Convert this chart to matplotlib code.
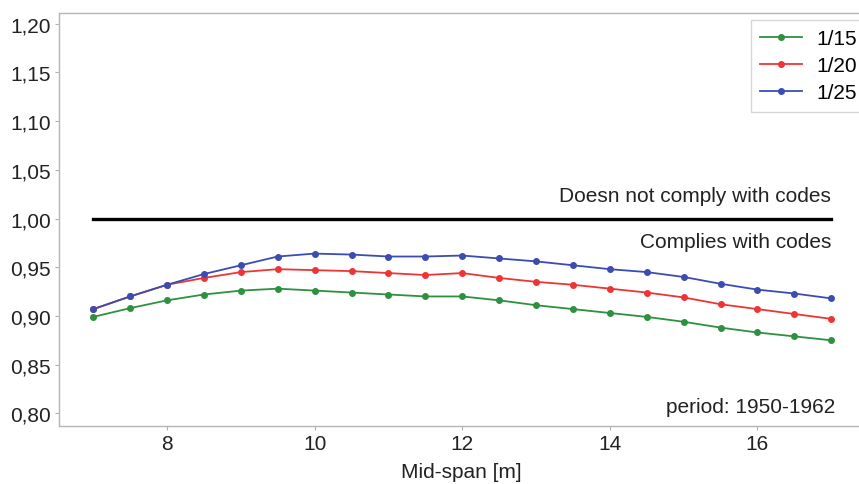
import matplotlib
matplotlib.use("Agg")
import matplotlib.pyplot as plt
import numpy as np

plt.rcParams['font.family'] = ['Liberation Sans', 'DejaVu Sans']

span = [7.0, 7.5, 8.0, 8.5, 9.0, 9.5, 10.0, 10.5, 11.0, 11.5, 12.0,
        12.5, 13.0, 13.5, 14.0, 14.5, 15.0, 15.5, 16.0, 16.5, 17.0]
r15 = [0.899, 0.908, 0.916, 0.922, 0.926, 0.928, 0.926, 0.924, 0.922, 0.920, 0.920,
       0.916, 0.911, 0.907, 0.903, 0.899, 0.894, 0.888, 0.883, 0.879, 0.875]
r20 = [0.907, 0.920, 0.932, 0.939, 0.945, 0.948, 0.947, 0.946, 0.944, 0.942, 0.944,
       0.939, 0.935, 0.932, 0.928, 0.924, 0.919, 0.912, 0.907, 0.902, 0.897]
r25 = [0.907, 0.920, 0.932, 0.943, 0.952, 0.961, 0.964, 0.963, 0.961, 0.961, 0.962,
       0.959, 0.956, 0.952, 0.948, 0.945, 0.940, 0.933, 0.927, 0.923, 0.918]
labels = ['1/15', '1/20', '1/25']
colors = ['#2e9140', '#ee3535', '#3b4db2']
yticks = [0.80, 0.85, 0.90, 0.95, 1.00, 1.05, 1.10, 1.15, 1.20]
xticks = [8, 10, 12, 14, 16]

W, H = 859, 485
FS = 15
fig = plt.figure(figsize=(W / 100, H / 100), dpi=100)
ax = fig.add_axes([59 / W, 1 - 427 / H, (863 - 59) / W, (427 - 14) / H])

for vals, lab, c in zip([r15, r20, r25], labels, colors):
    ax.plot(span, vals, '-o', color=c, lw=1.3, ms=4, label=lab)

ax.plot([span[0], span[-1]], [1.0, 1.0], color='black', lw=2.4)

ax.set_xlim(6.536, 17.43)
ax.set_ylim(0.787, 1.211)
ax.set_xticks(xticks)
ax.set_yticks(yticks)
ax.set_yticklabels([f"{v:.2f}".replace('.', ',') for v in yticks])
ax.tick_params(labelsize=FS, length=3, color='#b0b0b0', labelcolor='#222222', pad=3)
for s in ax.spines.values():
    s.set_color('#b5b5b5')
    s.set_linewidth(1.0)

ax.set_xlabel('Mid-span [m]', fontsize=FS, color='#222222', labelpad=6)

ax.text(17.0, 1.0235, 'Doesn not comply with codes', ha='right', va='center',
        fontsize=FS, color='#222222')
ax.text(17.0, 0.9765, 'Complies with codes', ha='right', va='center',
        fontsize=FS, color='#222222')
ax.text(17.05, 0.8075, 'period: 1950-1962', ha='right', va='center',
        fontsize=FS, color='#222222')

leg = ax.legend(loc='upper left', bbox_to_anchor=(751 / W, 1 - 21 / H),
                bbox_transform=fig.transFigure, fontsize=FS, frameon=True,
                fancybox=False, edgecolor='#cccccc', borderaxespad=0.0,
                handlelength=2.0, handletextpad=0.7, labelspacing=0.38,
                borderpad=0.45)
leg.get_frame().set_linewidth(1.0)

fig.savefig('out.png', dpi=100)
